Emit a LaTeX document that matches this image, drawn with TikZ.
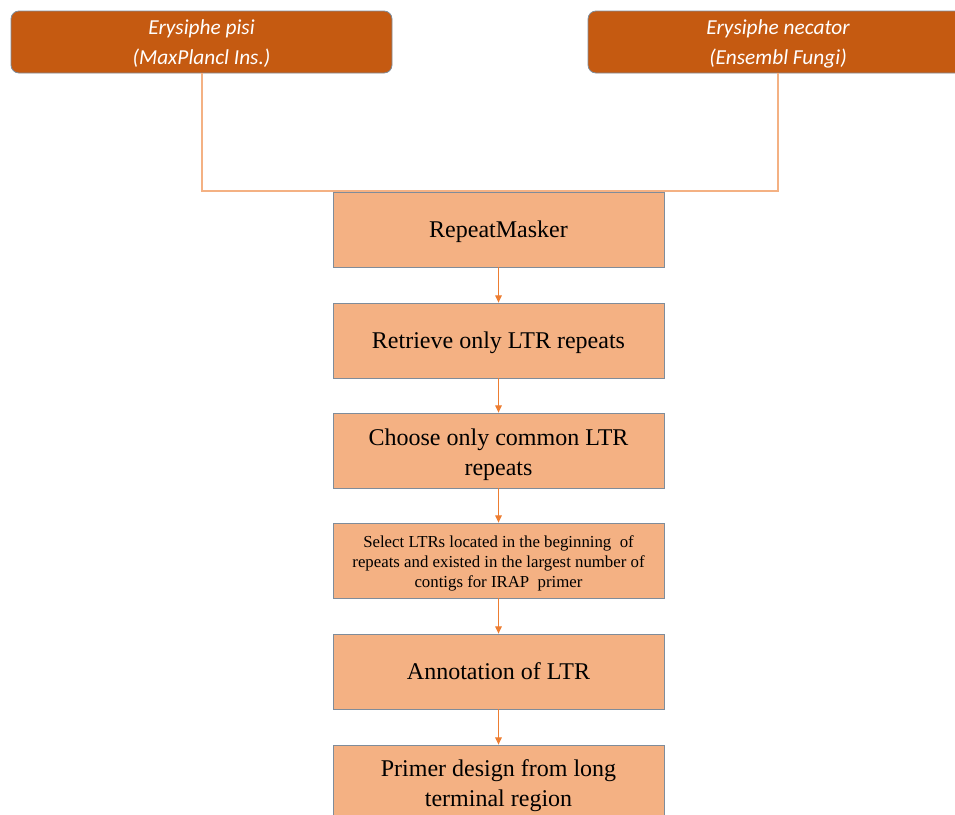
\documentclass[tikz,border=0pt]{standalone}
\usepackage{fontspec}
\setmainfont{Liberation Serif}
\newfontfamily\srcfont{Carlito}
\usetikzlibrary{arrows.meta}
\definecolor{srcfill}{HTML}{C55A11}
\definecolor{stepfill}{HTML}{F4B183}
\definecolor{edgegray}{HTML}{7F8C9A}
\definecolor{linkorange}{HTML}{ED7D31}
\definecolor{joinline}{HTML}{F4B183}
\begin{document}
\begin{tikzpicture}[x=0.75pt,y=-0.75pt,
  srcbox/.style={draw=edgegray, line width=0.6pt, fill=srcfill, rounded corners=6pt},
  srctext/.style={text=white, font=\srcfont\itshape\fontsize{16}{22.5}\selectfont, align=center},
  stepbox/.style={draw=edgegray, line width=0.6pt, fill=stepfill, minimum width=331*0.75pt,
    minimum height=75*0.75pt, inner sep=0pt},
  steptext/.style={align=center, inner sep=0pt, font=\fontsize{18}{22.5}\selectfont},
  smalltext/.style={steptext, font=\fontsize{12.6}{15}\selectfont},
  link/.style={draw=linkorange, line width=0.8pt, -{Triangle[length=5.5pt,width=5pt]}},
  joinline/.style={draw=joinline, line width=0.8pt}]
  \useasboundingbox (0,0) rectangle (955,814);
  \begin{scope}
    \clip (0,0) rectangle (955,814);
    % source genomes
    \draw[srcbox] (11,11) rectangle (392,73);
    \node[srctext] (pisi) at (201.5,43.5) {Erysiphe pisi\\(MaxPlancl Ins.)};
    \draw[srcbox] (588,11) rectangle (969,73);
    \node[srctext] (necator) at (778,43.5) {Erysiphe necator\\(Ensembl Fungi)};
    % pipeline step boxes
    \node[stepbox] (rm) at (498.5,229.5) {};
    \node[stepbox] (ltr) at (498.5,340.5) {};
    \node[stepbox] (common) at (498.5,450.5) {};
    \node[stepbox] (select) at (498.5,560.5) {};
    \node[stepbox] (annot) at (498.5,671.5) {};
    \node[stepbox] (primer) at (498.5,782.5) {};
    % step labels
    \node[steptext] (rmt) at ([yshift=-2pt]rm.center) {RepeatMasker};
    \node[steptext] (ltrt) at ([yshift=-2pt]ltr.center) {Retrieve only LTR repeats};
    \node[steptext] (commont) at ([yshift=-3pt]common.center) {Choose only common LTR\\repeats};
    \node[smalltext] (selectt) at ([yshift=-2pt]select.center)
      {Select LTRs located in the beginning \ of\\repeats and existed in the largest number of\\contigs for IRAP \ primer};
    \node[steptext] (annott) at ([yshift=0pt]annot.center) {Annotation of LTR};
    \node[steptext] (primert) at ([yshift=-2pt]primer.center) {Primer design from long\\terminal region};
    % joining lines from the sources
    \coordinate (jl) at (202,191);
    \coordinate (jr) at (778,191);
    \draw[joinline] (202,73) -- (jl) -- (jr) -- (778,73);
    % step links
    \draw[link] (rm.south) -- (ltr.north);
    \draw[link] (ltr.south) -- (common.north);
    \draw[link] (common.south) -- (select.north);
    \draw[link] (select.south) -- (annot.north);
    \draw[link] (annot.south) -- (primer.north);
  \end{scope}
\end{tikzpicture}
\end{document}
